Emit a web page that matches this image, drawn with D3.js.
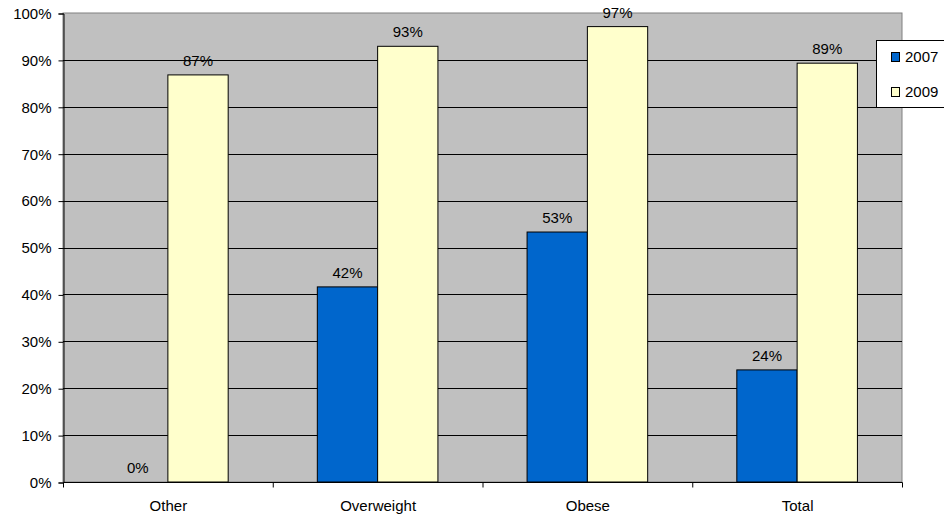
<!DOCTYPE html>
<html><head><meta charset="utf-8">
<script src="https://cdn.jsdelivr.net/npm/d3@7"></script>
<style>body{margin:0;background:#fff}svg{display:block;font-family:"Liberation Sans",Arial,sans-serif}</style>
</head><body><svg width="944" height="516"></svg>
<script>
const categories = ["Other", "Overweight", "Obese", "Total"];
const seriesNames = ["2007", "2009"];
const values2007 = [0, 0.416, 0.533, 0.239];
const values2009 = [0.868, 0.929, 0.971, 0.893];
const yTicks = [0,0.1,0.2,0.3,0.4,0.5,0.6,0.7,0.8,0.9,1.0];
const colors = ["#0066CC", "#FFFFCC"];

const FS = 15;
const svg = d3.select("svg");
const L = 63, R = 902, T = 13, B = 482;
const x = d3.scaleBand().domain(categories).range([L, R]).paddingInner(0).paddingOuter(0);
const y = d3.scaleLinear().domain([0, 1]).range([B, T]);
const barW = x.bandwidth() * 0.2875;

svg.append("rect").attr("x", L).attr("y", T).attr("width", R - L).attr("height", B - T)
  .attr("fill", "#C0C0C0").attr("stroke", "#808080").attr("stroke-width", 1);

svg.append("g").selectAll("line").data(yTicks.slice(1, -1)).join("line")
  .attr("x1", L).attr("x2", R).attr("y1", d => Math.round(y(d)) + 0.5).attr("y2", d => Math.round(y(d)) + 0.5)
  .attr("stroke", "#000").attr("stroke-width", 1);

const data = [values2007, values2009];
data.forEach((vals, s) => {
  svg.append("g").selectAll("rect").data(categories).join("rect")
    .attr("x", (c) => x(c) + x.bandwidth() / 2 - barW + s * barW)
    .attr("y", (c, i) => y(vals[i]))
    .attr("width", barW)
    .attr("height", (c, i) => B - y(vals[i]))
    .attr("fill", colors[s]).attr("stroke", "#000").attr("stroke-width", 1)
    .attr("display", (c, i) => vals[i] > 0 ? null : "none");
  svg.append("g").selectAll("text").data(categories).join("text")
    .attr("x", (c) => x(c) + x.bandwidth() / 2 - barW / 2 + s * barW)
    .attr("y", (c, i) => y(vals[i]) - 9)
    .attr("text-anchor", "middle").attr("font-size", FS).attr("fill", "#000")
    .text((c, i) => Math.round(vals[i] * 100) + "%");
});

// y axis
const yAxis = d3.axisLeft(y).tickValues(yTicks).tickFormat(d3.format(".0%")).tickSize(5).tickPadding(7);
const gy = svg.append("g").attr("transform", `translate(${L + 0.5},0.5)`).call(yAxis);
gy.selectAll("text").attr("font-size", FS).attr("fill", "#000").attr("font-family", "Liberation Sans, Arial, sans-serif");
gy.selectAll("line,path").attr("stroke", "#000");

// x axis
const gx = svg.append("g").attr("transform", `translate(0.5,${B + 0.5})`);
gx.append("line").attr("x1", L).attr("x2", R).attr("stroke", "#000");
const bounds = categories.map(c => x(c)).concat([R]);
gx.selectAll("line.t").data(bounds).join("line").attr("class", "t")
  .attr("x1", d => d).attr("x2", d => d).attr("y1", 0).attr("y2", 5).attr("stroke", "#000");
gx.selectAll("text").data(categories).join("text")
  .attr("x", c => x(c) + x.bandwidth() / 2).attr("y", 28)
  .attr("text-anchor", "middle").attr("font-size", FS).attr("fill", "#000").text(c => c);

// legend
const lg = svg.append("g");
lg.append("rect").attr("x", 876.5).attr("y", 40.5).attr("width", 80).attr("height", 67)
  .attr("fill", "#fff").attr("stroke", "#000");
seriesNames.forEach((n, i) => {
  lg.append("rect").attr("x", 891.5).attr("y", 52.5 + i * 35).attr("width", 8).attr("height", 9)
    .attr("fill", colors[i]).attr("stroke", "#000");
  lg.append("text").attr("x", 905).attr("y", 62 + i * 35).attr("font-size", FS).attr("fill", "#000").text(n);
});
</script></body></html>
